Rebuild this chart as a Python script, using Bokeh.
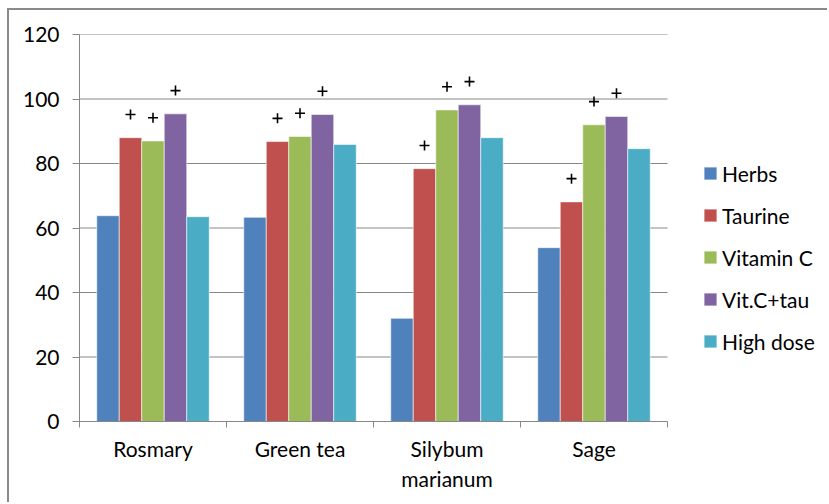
import numpy as np
from bokeh.plotting import figure
from bokeh.models import (ColumnDataSource, Range1d, FixedTicker,
                          Legend, LegendItem)
from bokeh.transform import dodge
from bokeh.embed import file_html
from bokeh.resources import INLINE

# ---- data ----
categories = ["Rosmary", "Green tea", "Silybum\nmarianum", "Sage"]
series = ["Herbs", "Taurine", "Vitamin C", "Vit.C+tau", "High dose"]
herbs = [63.8, 63.3, 32.0, 53.9]
taurine = [88.0, 86.8, 78.4, 68.1]
vitamin_c = [87.0, 88.4, 96.6, 92.0]
vitc_tau = [95.4, 95.2, 98.2, 94.6]
high_dose = [63.5, 85.9, 88.0, 84.6]
# series marked with "+" above every bar
marked = [False, True, True, True, False]
y_ticks = [0, 20, 40, 60, 80, 100, 120]

colors = ["#4F81BD", "#C0504D", "#9BBB59", "#8064A2", "#4BACC6"]
FONT = "Lato"
GREY = "#878787"

n = len(categories)
# each group occupies one unit on the x scale, centred at i + 0.5
centres = (np.arange(n) + 0.5).tolist()
keys = ["s0", "s1", "s2", "s3", "s4"]
src = ColumnDataSource(dict(x=centres, s0=herbs, s1=taurine, s2=vitamin_c,
                            s3=vitc_tau, s4=high_dose))

# the frame runs to the right edge so the legend can sit beside the bars;
# the bar area itself spans 588 of the frame's 750 px
FRAME_W, BAR_AREA_W = 750, 588
p = figure(width=820, height=494,
           x_range=Range1d(0, n * FRAME_W / BAR_AREA_W), y_range=Range1d(0, 120),
           output_backend="svg", toolbar_location=None,
           min_border_left=70, min_border_right=0, min_border_top=24,
           min_border_bottom=83)
p.outline_line_color = None
p.background_fill_color = "white"
p.border_fill_color = "white"
p.xgrid.visible = False
p.ygrid.visible = False
# outer chart border (left and top edges fall inside the page)
p.styles = {"margin-left": "7px", "margin-top": "8px",
            "border-left": "2px solid #8a8a8a", "border-top": "2px solid #8a8a8a"}

# horizontal gridlines across the bar area only
grid_y = y_ticks[1:]
p.segment(x0=[0] * len(grid_y), x1=[n] * len(grid_y), y0=grid_y, y1=grid_y,
          line_color=GREY, line_width=1)

bar_w = 0.153
renderers = []
for i, (k, c) in enumerate(zip(keys, colors)):
    off = (i - 2) * bar_w
    r = p.vbar(x=dodge("x", off), top=k, width=bar_w, bottom=0,
               source=src, fill_color=c, line_color="white", line_alpha=0.55,
               line_width=1)
    renderers.append(r)
    if marked[i]:
        p.scatter(x=dodge("x", off), y=dodge(k, 7.2), source=src,
                  marker="cross", size=10, line_width=1.6, line_color="black")

# y axis
p.yaxis.ticker = FixedTicker(ticks=y_ticks)
p.yaxis.major_tick_in = 0
p.yaxis.major_tick_out = 7
p.yaxis.minor_tick_in = 0
p.yaxis.minor_tick_out = 0
p.yaxis.axis_line_color = GREY
p.yaxis.major_tick_line_color = GREY
p.yaxis.major_label_standoff = 13
p.yaxis.major_label_text_font = FONT
p.yaxis.major_label_text_font_size = "21px"
p.yaxis.major_label_text_color = "black"

# x axis: labels at group centres, tick marks at group boundaries
xaxis = p.xaxis[0]
xaxis.bounds = (0, n)
xaxis.ticker = FixedTicker(ticks=centres, minor_ticks=list(range(n + 1)))
xaxis.major_label_overrides = {c: lab for c, lab in zip(centres, categories)}
xaxis.major_tick_in = 0
xaxis.major_tick_out = 0
xaxis.minor_tick_in = 0
xaxis.minor_tick_out = 6
xaxis.minor_tick_line_color = GREY
xaxis.axis_line_color = GREY
xaxis.major_label_standoff = 8
xaxis.major_label_text_font = FONT
xaxis.major_label_text_font_size = "21px"
xaxis.major_label_text_color = "black"
xaxis.major_label_text_line_height = 1.2

# legend beside the bars
legend = Legend(items=[LegendItem(label=s, renderers=[r]) for s, r in zip(series, renderers)],
                location=(623, 65), orientation="vertical",
                glyph_width=16, glyph_height=16, label_standoff=4, spacing=12,
                label_height=30, padding=0, margin=0, border_line_color=None,
                background_fill_alpha=0, label_text_font=FONT,
                label_text_font_size="21px", label_text_color="black")
p.add_layout(legend)

open("out.html", "w").write(file_html(p, INLINE))
